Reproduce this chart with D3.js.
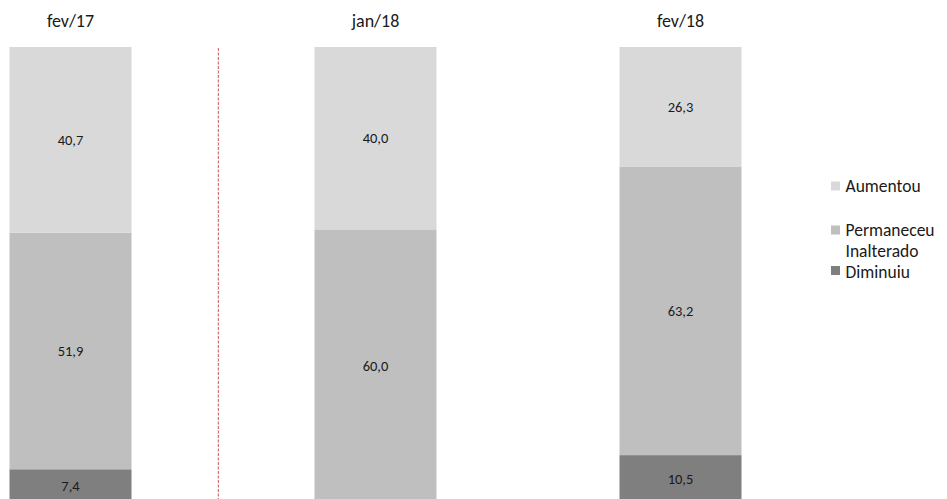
<!DOCTYPE html>
<html>
<head>
<meta charset="utf-8">
<script src="https://cdn.jsdelivr.net/npm/d3@7"></script>
<style>
  html, body { margin: 0; padding: 0; background: #fff; }
  svg { display: block; font-family: Carlito, Lato, "Liberation Sans", sans-serif; }
</style>
</head>
<body>
<svg id="chart" width="947" height="499"></svg>
<script>
// Períodos e séries (percentuais)
const periods = ["fev/17", "jan/18", "fev/18"];
const seriesNames = ["Diminuiu", "Permaneceu Inalterado", "Aumentou"];
const diminuiu = [7.4, null, 10.5];
const permaneceu = [51.9, 60.0, 63.2];
const aumentou = [40.7, 40.0, 26.3];
const colors = ["#7f7f7f", "#bfbfbf", "#d9d9d9"];

const rows = periods.map((p, i) => ({
  period: p,
  "Diminuiu": diminuiu[i] || 0,
  "Permaneceu Inalterado": permaneceu[i] || 0,
  "Aumentou": aumentou[i] || 0
}));

const svg = d3.select("#chart");

const barW = 122;
const step = 305;
const x0 = 70.5; // centro da primeira barra
const xc = d3.scalePoint().domain(periods).range([x0, x0 + step * (periods.length - 1)]);

// Escala vertical: a base das barras fica abaixo da borda da figura
const y = d3.scaleLinear().domain([0, 100]).range([503, 47]);

const stack = d3.stack().keys(seriesNames);
const layers = stack(rows);

const g = svg.append("g");

layers.forEach((layer, li) => {
  g.selectAll(null)
    .data(layer)
    .join("rect")
    .attr("x", d => xc(d.data.period) - barW / 2)
    .attr("width", barW)
    .attr("y", d => y(d[1]))
    .attr("height", d => y(d[0]) - y(d[1]))
    .attr("fill", colors[li]);
});

// Rótulos de valor
const fmt = v => d3.format(".1f")(v).replace(".", ",");
layers.forEach((layer, li) => {
  g.selectAll(null)
    .data(layer.filter(d => d[1] - d[0] > 0))
    .join("text")
    .attr("x", d => xc(d.data.period))
    .attr("y", d => (y(d[0]) + y(d[1])) / 2)
    .attr("dy", "0.35em")
    .attr("text-anchor", "middle")
    .attr("font-size", 14.5)
    .attr("fill", "#1a1a1a")
    .text(d => fmt(d[1] - d[0]));
});

// Títulos dos períodos
g.selectAll(null)
  .data(periods)
  .join("text")
  .attr("x", d => xc(d))
  .attr("y", 21)
  .attr("dy", "0.35em")
  .attr("text-anchor", "middle")
  .attr("font-size", 18)
  .attr("fill", "#1a1a1a")
  .text(d => d);

// Linha de separação tracejada
const sepX = (xc(periods[0]) + xc(periods[1])) / 2 - 4.7;
svg.append("line")
  .attr("x1", sepX).attr("x2", sepX)
  .attr("y1", 48).attr("y2", 499)
  .attr("stroke", "#c9545a")
  .attr("stroke-width", 1)
  .attr("stroke-dasharray", "3,1.5");

// Legenda
const legend = svg.append("g");
const legendItems = [
  { name: "Aumentou", color: colors[2], lines: ["Aumentou"], y: 186, ty: 186 },
  { name: "Permaneceu Inalterado", color: colors[1], lines: ["Permaneceu", "Inalterado"], y: 230, ty: 229.5 },
  { name: "Diminuiu", color: colors[0], lines: ["Diminuiu"], y: 270.5, ty: 272 }
];
legendItems.forEach(it => {
  legend.append("rect")
    .attr("x", 831).attr("y", it.y - 4.5)
    .attr("width", 9).attr("height", 9)
    .attr("fill", it.color);
  it.lines.forEach((ln, k) => {
    legend.append("text")
      .attr("x", 845.5)
      .attr("y", it.ty + k * 21)
      .attr("dy", "0.35em")
      .attr("font-size", 17.5)
      .attr("fill", "#1a1a1a")
      .text(ln);
  });
});
</script>
</body>
</html>
